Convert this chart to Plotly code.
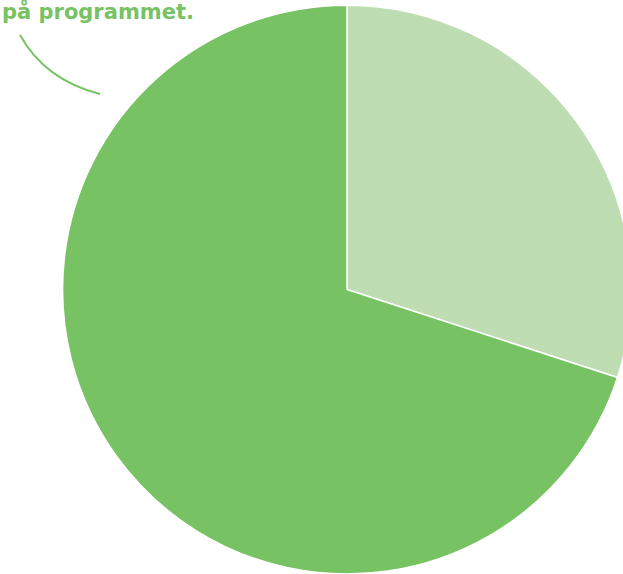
import plotly.graph_objects as go

labels = ["Andel A", "på programmet."]
values = [30, 70]
colors = ["#bfddb2", "#77c263"]
label_text = "<b>på programmet.</b>"

fig = go.Figure(go.Pie(
    labels=labels,
    values=values,
    sort=False,
    direction="clockwise",
    rotation=0,
    marker=dict(colors=colors, line=dict(color="#ffffff", width=1.5)),
    textinfo="none",
    hoverinfo="label+percent",
    showlegend=False,
    domain=dict(x=[0, 1], y=[0, 0.991]),
))

fig.add_annotation(
    text=label_text, xref="paper", yref="paper",
    x=0, y=1 + 3 / 574, xanchor="left", yanchor="top",
    showarrow=False,
    font=dict(family="DejaVu Sans, sans-serif", size=21, color="#77c263"),
)

fig.add_shape(
    type="path", xref="paper", yref="paper",
    path="M {:.4f},{:.4f} Q {:.4f},{:.4f} {:.4f},{:.4f}".format(
        20 / 694, 1 - 35 / 574, 45 / 694, 1 - 80 / 574, 100 / 694, 1 - 94 / 574),
    line=dict(color="#77c263", width=2),
)

fig.update_layout(
    width=694, height=574,
    margin=dict(l=0, r=0, t=0, b=0),
    paper_bgcolor="#ffffff", plot_bgcolor="#ffffff",
)

fig.write_html("out.html", post_script="document.body.style.overflow='hidden';document.body.style.margin='0';")
